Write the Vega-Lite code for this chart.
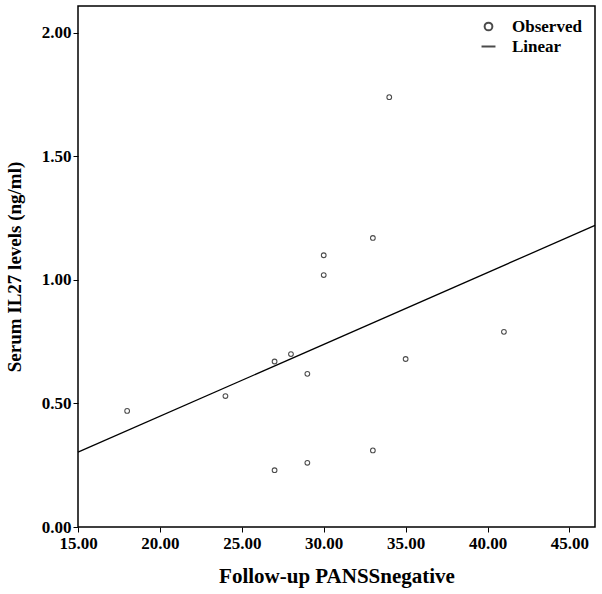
{
  "$schema": "https://vega.github.io/schema/vega-lite/v6.json",
  "width": 517,
  "height": 521,
  "autosize": {"type": "none"},
  "padding": {"left": 78, "top": 6, "right": 7, "bottom": 67},
  "background": "white",
  "config": {
    "view": {"stroke": "black", "strokeWidth": 1.5},
    "font": "Liberation Serif",
    "axis": {
      "grid": false,
      "domain": false,
      "labelFlush": false,
      "tickColor": "black",
      "tickSize": 5,
      "labelFont": "Liberation Serif",
      "labelFontWeight": "bold",
      "labelFontSize": 17,
      "labelColor": "black",
      "titleFont": "Liberation Serif",
      "titleFontWeight": "bold",
      "titleColor": "black"
    }
  },
  "data": {
    "values": [
      {"x": 18, "y": 0.47},
      {"x": 24, "y": 0.53},
      {"x": 27, "y": 0.67},
      {"x": 28, "y": 0.70},
      {"x": 29, "y": 0.62},
      {"x": 35, "y": 0.68},
      {"x": 33, "y": 0.31},
      {"x": 29, "y": 0.26},
      {"x": 27, "y": 0.23},
      {"x": 30, "y": 1.10},
      {"x": 30, "y": 1.02},
      {"x": 33, "y": 1.17},
      {"x": 34, "y": 1.74},
      {"x": 41, "y": 0.79}
    ]
  },
  "layer": [
    {
      "mark": {"type": "point", "filled": false, "color": "black", "size": 22, "strokeWidth": 1.1},
      "encoding": {
        "x": {
          "field": "x", "type": "quantitative",
          "scale": {"domain": [15, 46.56], "nice": false, "zero": false},
          "axis": {"values": [15, 20, 25, 30, 35, 40, 45], "format": ".2f", "title": "Follow-up PANSSnegative", "titleFontSize": 21, "labelPadding": 3, "titlePadding": 14}
        },
        "y": {
          "field": "y", "type": "quantitative",
          "scale": {"domain": [0, 2.109], "nice": false},
          "axis": {"values": [0, 0.5, 1, 1.5, 2], "format": ".2f", "title": "Serum IL27 levels (ng/ml)", "titleFontSize": 19, "labelPadding": 2, "titlePadding": 17}
        },
        "shape": {
          "datum": "Observed",
          "scale": {"domain": ["Observed", "Linear"], "range": ["circle", "M-1.8,0L1.8,0"]},
          "legend": {
            "title": null,
            "orient": "none",
            "legendX": 402,
            "legendY": 12,
            "labelFont": "Liberation Serif",
            "labelFontWeight": "bold",
            "labelFontSize": 17,
            "labelColor": "black",
            "labelOffset": 15,
            "symbolSize": 60,
            "symbolStrokeColor": "black",
            "symbolStrokeWidth": 2,
            "symbolFillColor": "transparent",
            "rowPadding": 2
          }
        }
      }
    },
    {
      "transform": [{"regression": "y", "on": "x", "extent": [15, 46.56]}],
      "mark": {"type": "line", "color": "black", "strokeWidth": 1.3},
      "encoding": {
        "x": {"field": "x", "type": "quantitative"},
        "y": {"field": "y", "type": "quantitative"}
      }
    }
  ]
}
